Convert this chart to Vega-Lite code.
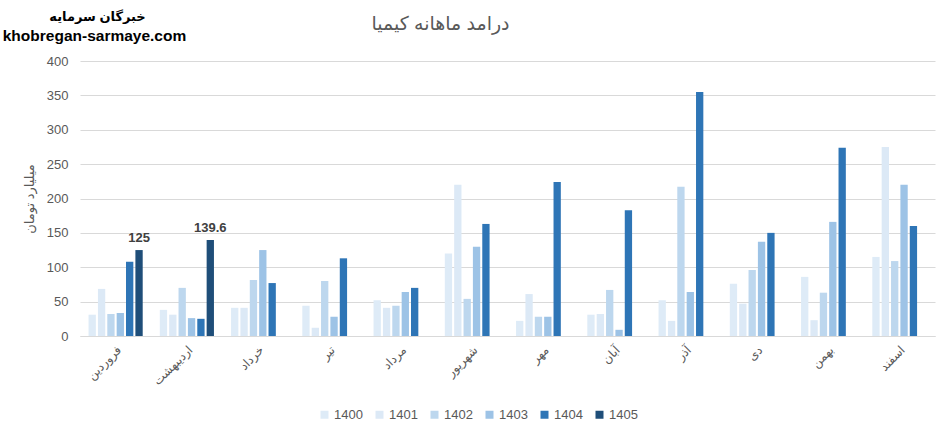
{
  "$schema": "https://vega.github.io/schema/vega-lite/v6.json",
  "width": 855,
  "height": 275,
  "autosize": {"type": "none"},
  "padding": {"left": 80, "top": 61, "right": 10, "bottom": 102},
  "background": "white",
  "title": {
    "text": "درامد ماهانه کیمیا",
    "anchor": "middle",
    "dx": -67,
    "offset": -24,
    "fontSize": 19,
    "fontWeight": "normal",
    "color": "#595959"
  },
  "data": {
    "values": [
      {"month": "فروردین", "year": "1400", "value": 31},
      {"month": "فروردین", "year": "1401", "value": 68.5},
      {"month": "فروردین", "year": "1402", "value": 32},
      {"month": "فروردین", "year": "1403", "value": 33.5},
      {"month": "فروردین", "year": "1404", "value": 108},
      {"month": "فروردین", "year": "1405", "value": 125},
      {"month": "اردیبهشت", "year": "1400", "value": 38},
      {"month": "اردیبهشت", "year": "1401", "value": 31},
      {"month": "اردیبهشت", "year": "1402", "value": 70},
      {"month": "اردیبهشت", "year": "1403", "value": 26},
      {"month": "اردیبهشت", "year": "1404", "value": 25},
      {"month": "اردیبهشت", "year": "1405", "value": 139.6},
      {"month": "خرداد", "year": "1400", "value": 41},
      {"month": "خرداد", "year": "1401", "value": 41},
      {"month": "خرداد", "year": "1402", "value": 81.5},
      {"month": "خرداد", "year": "1403", "value": 125},
      {"month": "خرداد", "year": "1404", "value": 77},
      {"month": "تیر", "year": "1400", "value": 44},
      {"month": "تیر", "year": "1401", "value": 12},
      {"month": "تیر", "year": "1402", "value": 80},
      {"month": "تیر", "year": "1403", "value": 28},
      {"month": "تیر", "year": "1404", "value": 113},
      {"month": "مرداد", "year": "1400", "value": 52},
      {"month": "مرداد", "year": "1401", "value": 41},
      {"month": "مرداد", "year": "1402", "value": 44},
      {"month": "مرداد", "year": "1403", "value": 64},
      {"month": "مرداد", "year": "1404", "value": 70},
      {"month": "شهریور", "year": "1400", "value": 120},
      {"month": "شهریور", "year": "1401", "value": 220},
      {"month": "شهریور", "year": "1402", "value": 54},
      {"month": "شهریور", "year": "1403", "value": 130},
      {"month": "شهریور", "year": "1404", "value": 163},
      {"month": "مهر", "year": "1400", "value": 22},
      {"month": "مهر", "year": "1401", "value": 61},
      {"month": "مهر", "year": "1402", "value": 28},
      {"month": "مهر", "year": "1403", "value": 28},
      {"month": "مهر", "year": "1404", "value": 224},
      {"month": "آبان", "year": "1400", "value": 31},
      {"month": "آبان", "year": "1401", "value": 32},
      {"month": "آبان", "year": "1402", "value": 67},
      {"month": "آبان", "year": "1403", "value": 9},
      {"month": "آبان", "year": "1404", "value": 183},
      {"month": "آذر", "year": "1400", "value": 52},
      {"month": "آذر", "year": "1401", "value": 22},
      {"month": "آذر", "year": "1402", "value": 217},
      {"month": "آذر", "year": "1403", "value": 64},
      {"month": "آذر", "year": "1404", "value": 355},
      {"month": "دی", "year": "1400", "value": 76},
      {"month": "دی", "year": "1401", "value": 47},
      {"month": "دی", "year": "1402", "value": 96},
      {"month": "دی", "year": "1403", "value": 137},
      {"month": "دی", "year": "1404", "value": 150},
      {"month": "بهمن", "year": "1400", "value": 86},
      {"month": "بهمن", "year": "1401", "value": 23},
      {"month": "بهمن", "year": "1402", "value": 63},
      {"month": "بهمن", "year": "1403", "value": 166},
      {"month": "بهمن", "year": "1404", "value": 274},
      {"month": "اسفند", "year": "1400", "value": 115},
      {"month": "اسفند", "year": "1401", "value": 275},
      {"month": "اسفند", "year": "1402", "value": 109},
      {"month": "اسفند", "year": "1403", "value": 220},
      {"month": "اسفند", "year": "1404", "value": 160}
    ]
  },
  "encoding": {
    "x": {
      "field": "month",
      "type": "nominal",
      "sort": ["فروردین", "اردیبهشت", "خرداد", "تیر", "مرداد", "شهریور", "مهر", "آبان", "آذر", "دی", "بهمن", "اسفند"],
      "scale": {"paddingInner": 0.24, "paddingOuter": 0.12}
    },
    "xOffset": {
      "field": "year",
      "type": "nominal",
      "scale": {"domain": ["1400", "1401", "1402", "1403", "1404", "1405"], "paddingInner": 0.22, "paddingOuter": 0}
    },
    "y": {
      "field": "value",
      "type": "quantitative",
      "scale": {"domain": [0, 400], "nice": false}
    }
  },
  "layer": [
    {
      "mark": {"type": "bar"},
      "encoding": {
        "x": {
          "field": "month",
          "type": "nominal",
          "sort": ["فروردین", "اردیبهشت", "خرداد", "تیر", "مرداد", "شهریور", "مهر", "آبان", "آذر", "دی", "بهمن", "اسفند"],
          "axis": {
            "title": null,
            "labelAngle": -45,
            "labelFontSize": 12,
            "labelColor": "#595959",
            "labelPadding": 8,
            "ticks": false,
            "domainColor": "#d9d9d9",
            "grid": false
          }
        },
        "y": {
          "field": "value",
          "type": "quantitative",
          "axis": {
            "title": "میلیارد تومان",
            "titleColor": "#595959",
            "titleFontSize": 13,
            "titleFontWeight": "normal",
            "titlePadding": 10,
            "values": [0, 50, 100, 150, 200, 250, 300, 350, 400],
            "labelFontSize": 13,
            "labelColor": "#595959",
            "labelPadding": 12,
            "domain": false,
            "ticks": false,
            "gridColor": "#d9d9d9"
          }
        },
        "color": {
          "field": "year",
          "type": "nominal",
          "scale": {
            "domain": ["1400", "1401", "1402", "1403", "1404", "1405"],
            "range": ["#deebf7", "#dce9f6", "#bdd7ee", "#9dc3e6", "#2e75b6", "#1f4e79"]
          },
          "legend": {
            "title": null,
            "orient": "none",
            "direction": "horizontal",
            "legendX": 238,
            "legendY": 347,
            "symbolType": "square",
            "symbolSize": 64,
            "symbolStrokeWidth": 0,
            "labelFontSize": 13,
            "labelColor": "#595959",
            "columnPadding": 10,
            "labelOffset": 3
          }
        }
      }
    },
    {
      "transform": [{"filter": "datum.year == '1405'"}],
      "mark": {"type": "text", "dy": -12, "fontSize": 13, "fontWeight": "bold", "color": "#404040"},
      "encoding": {
        "x": {
          "field": "month",
          "type": "nominal",
          "sort": ["فروردین", "اردیبهشت", "خرداد", "تیر", "مرداد", "شهریور", "مهر", "آبان", "آذر", "دی", "بهمن", "اسفند"],
          "axis": {
            "orient": "top",
            "labels": false,
            "ticks": false,
            "domain": false,
            "grid": false,
            "title": "khobregan-sarmaye.com",
            "titleX": 14,
            "titleY": -26,
            "titleAlign": "center",
            "titleBaseline": "middle",
            "titleFontSize": 15.5,
            "titleFontWeight": "bold",
            "titleColor": "#000000"
          }
        },
        "y": {
          "field": "value",
          "type": "quantitative",
          "axis": {
            "orient": "right",
            "labels": false,
            "ticks": false,
            "domain": false,
            "grid": false,
            "title": "خبرگان سرمایه",
            "titleAngle": 0,
            "titleX": -838,
            "titleY": -45,
            "titleAlign": "center",
            "titleBaseline": "middle",
            "titleFontSize": 13,
            "titleFontWeight": "bold",
            "titleColor": "#000000"
          }
        },
        "text": {"field": "value", "type": "quantitative"}
      }
    }
  ],
  "resolve": {"axis": {"x": "independent", "y": "independent"}},
  "config": {
    "font": "Liberation Sans, DejaVu Sans",
    "view": {"stroke": null}
  }
}
